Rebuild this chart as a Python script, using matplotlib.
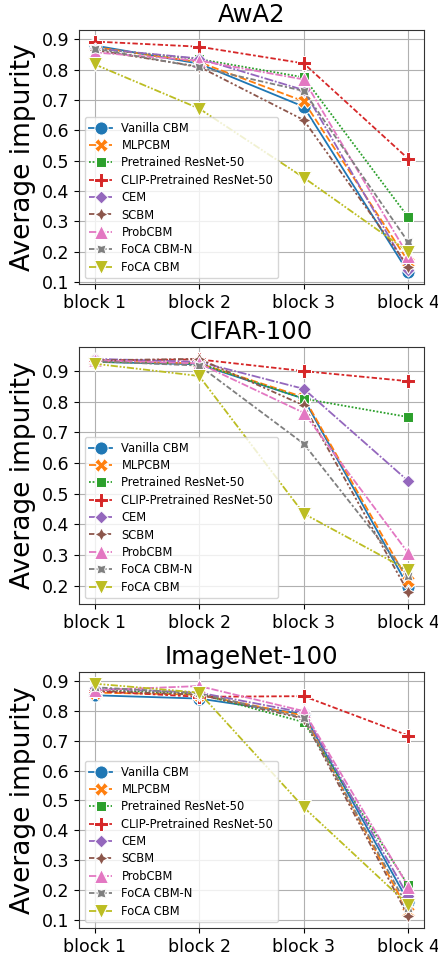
import matplotlib
matplotlib.use("Agg")
import matplotlib.pyplot as plt
from matplotlib.ticker import MultipleLocator

blocks = ["block 1", "block 2", "block 3", "block 4"]
methods = ["Vanilla CBM", "MLPCBM", "Pretrained ResNet-50", "CLIP-Pretrained ResNet-50",
           "CEM", "SCBM", "ProbCBM", "FoCA CBM-N", "FoCA CBM"]
datasets = ["AwA2", "CIFAR-100", "ImageNet-100"]

awa2_vanilla = [0.880, 0.820, 0.678, 0.131]
awa2_mlp = [0.875, 0.825, 0.696, 0.167]
awa2_pre = [0.870, 0.835, 0.775, 0.313]
awa2_clip = [0.893, 0.876, 0.821, 0.506]
awa2_cem = [0.870, 0.837, 0.733, 0.140]
awa2_scbm = [0.865, 0.810, 0.634, 0.150]
awa2_prob = [0.857, 0.830, 0.768, 0.186]
awa2_focan = [0.870, 0.808, 0.730, 0.231]
awa2_foca = [0.818, 0.672, 0.444, 0.200]

cifar_vanilla = [0.930, 0.922, 0.810, 0.196]
cifar_mlp = [0.932, 0.925, 0.815, 0.214]
cifar_pre = [0.930, 0.925, 0.810, 0.750]
cifar_clip = [0.935, 0.938, 0.900, 0.867]
cifar_cem = [0.940, 0.930, 0.842, 0.541]
cifar_scbm = [0.935, 0.940, 0.788, 0.178]
cifar_prob = [0.935, 0.925, 0.764, 0.306]
cifar_focan = [0.932, 0.918, 0.663, 0.230]
cifar_foca = [0.924, 0.884, 0.435, 0.250]

imnet_vanilla = [0.853, 0.842, 0.790, 0.160]
imnet_mlp = [0.862, 0.855, 0.785, 0.125]
imnet_pre = [0.872, 0.858, 0.763, 0.215]
imnet_clip = [0.867, 0.848, 0.850, 0.718]
imnet_cem = [0.876, 0.862, 0.795, 0.178]
imnet_scbm = [0.868, 0.855, 0.775, 0.111]
imnet_prob = [0.870, 0.884, 0.800, 0.211]
imnet_focan = [0.880, 0.860, 0.778, 0.140]
imnet_foca = [0.892, 0.862, 0.477, 0.150]

values = {
    "AwA2": [awa2_vanilla, awa2_mlp, awa2_pre, awa2_clip, awa2_cem, awa2_scbm,
             awa2_prob, awa2_focan, awa2_foca],
    "CIFAR-100": [cifar_vanilla, cifar_mlp, cifar_pre, cifar_clip, cifar_cem,
                  cifar_scbm, cifar_prob, cifar_focan, cifar_foca],
    "ImageNet-100": [imnet_vanilla, imnet_mlp, imnet_pre, imnet_clip, imnet_cem,
                     imnet_scbm, imnet_prob, imnet_focan, imnet_foca],
}

colors = ["#1f77b4", "#ff7f0e", "#2ca02c", "#d62728", "#9467bd",
          "#8c564b", "#e377c2", "#7f7f7f", "#bcbd22"]
markers = ["o", "X", (4, 0, 45), "P", (4, 0, 0), (4, 1, 0), "^", (4, 1, 45), "v"]
dashes = [None, (4, 1.5), (1, 1), (3, 1.25, 1.5, 1.25), (5, 1, 1, 1),
          (3, 1.25, 1.25, 1.25, 1.25, 1.25), (4, 1, 4, 1, 1, 1),
          (3, 1.25, 3, 1.25, 1.25, 1.25), (4, 1, 1, 1, 1, 1)]

fig = plt.figure(figsize=(4.38, 9.55), dpi=100)
positions = [(0.180, 0.7026, 0.788, 0.266),
             (0.180, 0.3675, 0.788, 0.269),
             (0.180, 0.0283, 0.788, 0.268)]

x = list(range(len(blocks)))
for ds, pos in zip(datasets, positions):
    ax = fig.add_axes(pos)
    for i, m in enumerate(methods):
        kw = dict(color=colors[i], marker=markers[i], markersize=9.5,
                  markeredgecolor="white", markeredgewidth=0.75,
                  linewidth=1.3, label=m)
        line, = ax.plot(x, values[ds][i], **kw)
        if dashes[i] is not None:
            line.set_dashes(dashes[i])
    ax.set_xticks(x)
    ax.set_xticklabels(blocks)
    ax.yaxis.set_major_locator(MultipleLocator(0.1))
    ax.tick_params(labelsize=12.5)
    ax.grid(True, color="#b0b0b0", linewidth=0.8)
    ax.set_axisbelow(True)
    for s in ax.spines.values():
        s.set_color("#333333")
    ax.set_title(ds, fontsize=17.5)
    ax.set_ylabel("Average impurity", fontsize=19)
    ax.legend(loc="lower left", fontsize=8.3, handlelength=2.0,
              labelspacing=0.38, borderpad=0.4)

fig.savefig("out.png", dpi=100)
